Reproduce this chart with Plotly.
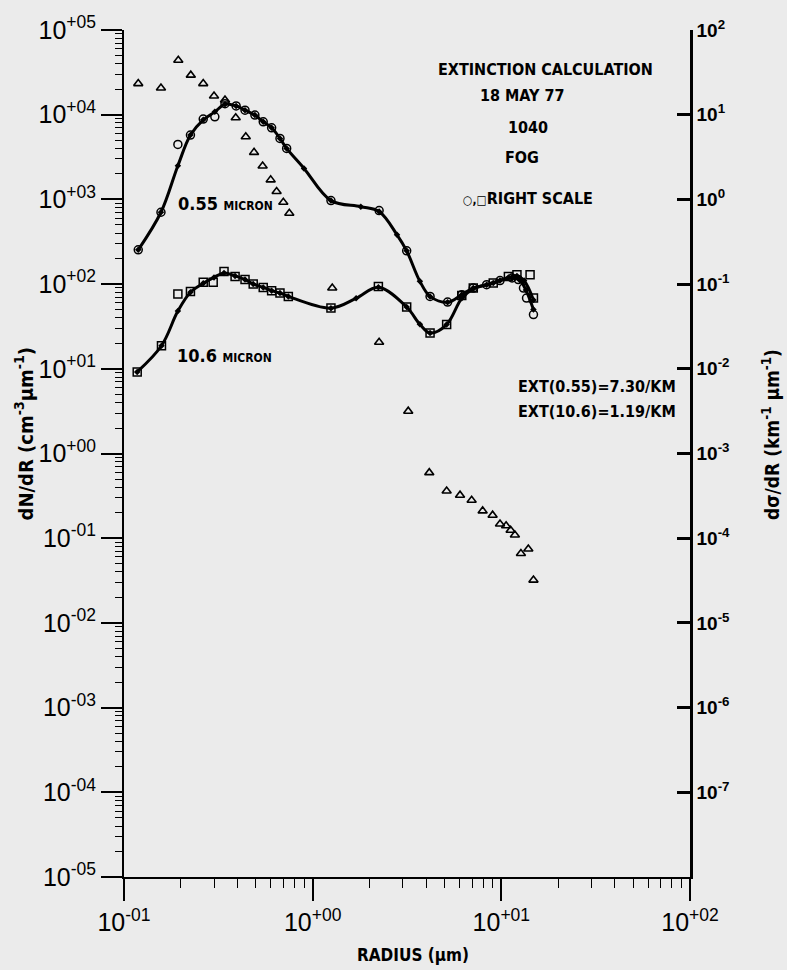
import plotly.graph_objects as go

# ---------------- data ----------------
# triangles: dN/dR (left scale, cm^-3 um^-1)
tri_radius = [0.119, 0.157, 0.194, 0.226, 0.263, 0.300, 0.343, 0.391, 0.442, 0.489,
              0.543, 0.599, 0.644, 0.699, 0.752, 1.27, 2.25, 3.21, 4.15, 5.13,
              6.04, 6.96, 7.96, 8.99, 9.84, 10.6, 11.2, 11.8, 12.7, 13.9, 14.8]
tri_dndr = [23300, 20700, 44000, 29300, 23300, 16600, 14900, 9190, 5500, 3590,
            2480, 1700, 1240, 925, 686, 89.8, 20.6, 3.16, 0.594, 0.361,
            0.322, 0.281, 0.210, 0.187, 0.147, 0.140, 0.124, 0.109, 0.066, 0.0745, 0.032]

# circles: d sigma/dR at 0.55 micron (right scale, km^-1 um^-1)
c055_radius = [0.119, 0.157, 0.193, 0.225, 0.263, 0.303, 0.343, 0.393, 0.438, 0.494,
               0.547, 0.606, 0.671, 0.728, 1.25, 2.25, 3.15, 4.19, 5.19, 6.17,
               7.10, 8.36, 9.84, 11.4, 12.3, 13.1, 13.6, 14.8]
c055_sigma = [0.254, 0.705, 4.46, 5.75, 8.87, 9.44, 13.5, 12.7, 11.3, 9.89,
              8.24, 7.01, 5.25, 4.00, 0.968, 0.738, 0.247, 0.0716, 0.0614, 0.0750,
              0.0897, 0.0984, 0.110, 0.118, 0.113, 0.0897, 0.0684, 0.0437]

# smooth curve 0.55 micron
fit055_radius = [0.119, 0.157, 0.193, 0.225, 0.263, 0.303, 0.343, 0.393, 0.438, 0.494,
                 0.547, 0.606, 0.671, 0.728, 0.9, 1.25, 1.8, 2.25, 2.8, 3.15,
                 3.7, 4.19, 5.19, 6.17, 7.1, 8.36, 9.84, 11.4, 12.5, 13.5, 14.8]
fit055_sigma = [0.254, 0.705, 2.5, 5.75, 8.7, 10.8, 13.3, 12.7, 11.3, 9.89,
                8.24, 7.01, 5.25, 4.0, 2.32, 0.968, 0.82, 0.72, 0.382, 0.247,
                0.108, 0.0716, 0.061, 0.075, 0.0897, 0.0984, 0.110, 0.118, 0.112, 0.085, 0.05]

# squares: d sigma/dR at 10.6 micron (right scale)
s106_radius = [0.1175, 0.158, 0.193, 0.225, 0.263, 0.297, 0.339, 0.388, 0.438, 0.484,
               0.547, 0.606, 0.671, 0.743, 1.25, 2.23, 3.15, 4.19, 5.13, 6.17,
               7.10, 9.06, 10.9, 12.1, 14.2, 14.8]
s106_sigma = [0.00919, 0.0187, 0.0762, 0.082, 0.105, 0.105, 0.141, 0.123, 0.113, 0.100,
              0.0914, 0.0836, 0.0783, 0.0716, 0.0521, 0.094, 0.0536, 0.0265, 0.0333, 0.0736,
              0.0897, 0.103, 0.123, 0.129, 0.129, 0.0684]

# smooth curve 10.6 micron
fit106_radius = [0.1175, 0.158, 0.193, 0.225, 0.263, 0.30, 0.339, 0.388, 0.438, 0.484,
                 0.547, 0.606, 0.671, 0.743, 1.25, 1.7, 2.23, 3.15, 3.7, 4.19,
                 5.13, 6.17, 7.1, 9.06, 10.9, 12.1, 13.2, 14.8]
fit106_sigma = [0.00919, 0.0187, 0.048, 0.08, 0.102, 0.12, 0.135, 0.125, 0.113, 0.100,
                0.0914, 0.0836, 0.0783, 0.0716, 0.052, 0.068, 0.092, 0.0536, 0.0335, 0.0265,
                0.0333, 0.068, 0.088, 0.103, 0.12, 0.125, 0.11, 0.065]

# tick labels
x_tickvals = [0.1, 1, 10, 100]
x_ticktext = ["10<sup>-01</sup>", "10<sup>+00</sup>", "10<sup>+01</sup>", "10<sup>+02</sup>"]
yl_tickvals = [1e5, 1e4, 1e3, 1e2, 1e1, 1e0, 1e-1, 1e-2, 1e-3, 1e-4, 1e-5]
yl_ticktext = ["10<sup>+05</sup>", "10<sup>+04</sup>", "10<sup>+03</sup>", "10<sup>+02</sup>",
               "10<sup>+01</sup>", "10<sup>+00</sup>", "10<sup>-01</sup>", "10<sup>-02</sup>",
               "10<sup>-03</sup>", "10<sup>-04</sup>", "10<sup>-05</sup>"]
yr_tickvals = [1e2, 1e1, 1e0, 1e-1, 1e-2, 1e-3, 1e-4, 1e-5, 1e-6, 1e-7]
yr_ticktext = ["10<sup>2</sup>", "10<sup>1</sup>", "10<sup>0</sup>",
               "10<sup>-1</sup>", "10<sup>-2</sup>", "10<sup>-3</sup>",
               "10<sup>-4</sup>", "10<sup>-5</sup>", "10<sup>-6</sup>",
               "10<sup>-7</sup>"]

# ---------------- figure ----------------
INK = "black"
BG = "#ebebeb"
THIN = "Liberation Sans, Arial, sans-serif"
BOLD = "DejaVu Sans Condensed, Liberation Sans Narrow, Liberation Sans, Arial, sans-serif"

fig = go.Figure()

fig.add_trace(go.Scatter(x=tri_radius, y=tri_dndr, mode="markers", yaxis="y",
                         marker=dict(symbol="triangle-up-open", size=8, color=INK,
                                     line=dict(width=1.6, color=INK)),
                         showlegend=False))

fig.add_trace(go.Scatter(x=fit055_radius, y=fit055_sigma, mode="lines+markers", yaxis="y2",
                         line=dict(color=INK, width=3, shape="spline", smoothing=1.0),
                         marker=dict(symbol="diamond", size=5, color=INK),
                         showlegend=False))
fig.add_trace(go.Scatter(x=c055_radius, y=c055_sigma, mode="markers", yaxis="y2",
                         marker=dict(symbol="circle-open", size=8, color=INK,
                                     line=dict(width=1.5, color=INK)),
                         showlegend=False))

fig.add_trace(go.Scatter(x=fit106_radius, y=fit106_sigma, mode="lines+markers", yaxis="y2",
                         line=dict(color=INK, width=3, shape="spline", smoothing=1.0),
                         marker=dict(symbol="diamond", size=5, color=INK),
                         showlegend=False))
fig.add_trace(go.Scatter(x=s106_radius, y=s106_sigma, mode="markers", yaxis="y2",
                         marker=dict(symbol="square-open", size=8, color=INK,
                                     line=dict(width=1.5, color=INK)),
                         showlegend=False))

x_minor = [k * 10.0 ** e for e in range(-1, 2) for k in range(2, 10)]
yl_minor = [k * 10.0 ** e for e in range(-5, 5) for k in range(2, 10)]

fig.update_layout(
    width=787, height=970,
    margin=dict(l=124, r=97, t=28, b=93),
    paper_bgcolor=BG, plot_bgcolor=BG,
    font=dict(family=THIN, color=INK),
    xaxis=dict(type="log", range=[-1, 2], showgrid=False, zeroline=False,
               showline=True, linecolor=INK, linewidth=2,
               ticks="outside", ticklen=22, tickwidth=1.6, tickcolor=INK,
               tickmode="array", tickvals=x_tickvals, ticktext=x_ticktext,
               tickfont=dict(family=THIN, size=25, color=INK),
               minor=dict(tickmode="array", tickvals=x_minor, ticks="outside",
                          ticklen=9, tickwidth=1.4, tickcolor=INK, showgrid=False)),
    yaxis=dict(type="log", range=[-5, 5], showgrid=False, zeroline=False,
               showline=True, linecolor=INK, linewidth=2,
               ticks="outside", ticklen=21, tickwidth=1.6, tickcolor=INK,
               tickmode="array", tickvals=yl_tickvals, ticktext=yl_ticktext,
               tickfont=dict(family=THIN, size=25, color=INK),
               minor=dict(tickmode="array", tickvals=yl_minor, ticks="outside",
                          ticklen=7, tickwidth=1.4, tickcolor=INK, showgrid=False)),
    yaxis2=dict(type="log", range=[-8, 2], overlaying="y", side="right",
                showgrid=False, zeroline=False,
                showline=True, linecolor=INK, linewidth=2.5,
                ticks="inside", ticklen=13, tickwidth=2.5, tickcolor=INK,
                tickmode="array", tickvals=yr_tickvals, ticktext=yr_ticktext,
                tickfont=dict(family=THIN, size=19, color=INK, weight="bold")),
)

def note(text, x, y, size=16, xanchor="center", angle=0, family=BOLD):
    fig.add_annotation(text=text, x=x, y=y, xref="paper", yref="paper",
                       xanchor=xanchor, yanchor="middle", showarrow=False,
                       textangle=angle, font=dict(family=family, size=size, color=INK))

note("<b>EXTINCTION CALCULATION</b>", 0.744, 0.953)
note("<b>18 MAY 77</b>", 0.703, 0.923)
note("<b>1040</b>", 0.714, 0.885)
note("<b>FOG</b>", 0.704, 0.849)
note("<b><span style='font-size:12px'>○,□</span>RIGHT SCALE</b>", 0.713, 0.801)
note("<b>0.55 <span style='font-size:12px'>MICRON</span></b>", 0.092, 0.795, size=18, xanchor="left")
note("<b>10.6 <span style='font-size:12px'>MICRON</span></b>", 0.090, 0.616, size=18, xanchor="left")
note("<b>EXT(0.55)=7.30/KM</b>", 0.979, 0.5795, xanchor="right")
note("<b>EXT(10.6)=1.19/KM</b>", 0.979, 0.550, xanchor="right")

note("<b>dN/dR (cm<sup>-3</sup>µm<sup>-1</sup>)</b>", -0.176, 0.523, size=20, angle=-90)
note("<b>dσ/dR (km<sup>-1</sup> µm<sup>-1</sup>)</b>", 1.143, 0.523, size=19, angle=-90)
note("<b>RADIUS (µm)</b>", 0.511, -0.092, size=17)

fig.write_html(
    "out.html",
    config={"displayModeBar": False},
    post_script="document.body.style.margin='0';"
                "document.body.style.background='#ebebeb';"
                "document.documentElement.style.overflow='hidden';",
)
